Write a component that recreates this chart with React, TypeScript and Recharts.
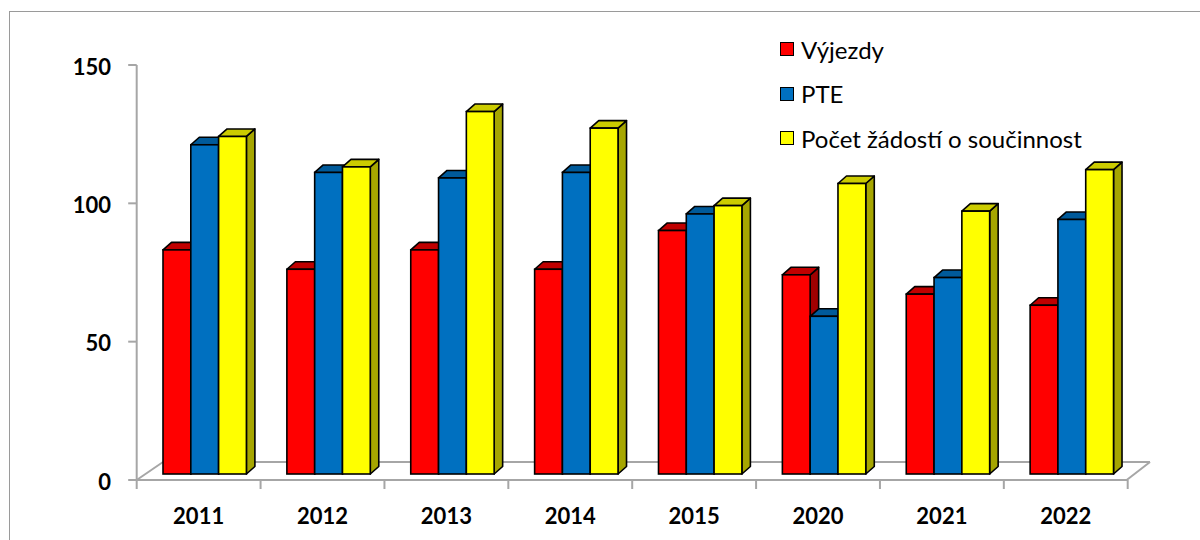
import React from 'react';
import { BarChart, Bar, XAxis, YAxis, CartesianGrid, Legend } from 'recharts';

const categories = ['2011', '2012', '2013', '2014', '2015', '2020', '2021', '2022'];
const vyjezdy = [81, 74, 81, 74, 88, 72, 65, 61];
const pte = [119, 109, 107, 109, 94, 57, 71, 92];
const zadosti = [122, 111, 131, 125, 97, 105, 95, 110];
const yTicks = [0, 50, 100, 150];

const seriesNames = ['Výjezdy', 'PTE', 'Počet žádostí o součinnost'];

const data = categories.map((c, i) => ({
  year: c,
  vyjezdy: vyjezdy[i],
  pte: pte[i],
  zadosti: zadosti[i],
}));

// layout constants
const W = 1200;
const H = 540;
const MARGIN = { top: 59, right: 66, bottom: 26, left: 83 };
const YAXIS_W = 60;
const XAXIS_H = 40;
const PLOT_LEFT = MARGIN.left + YAXIS_W;
const PLOT_RIGHT = W - MARGIN.right;
const BW = (PLOT_RIGHT - PLOT_LEFT) / categories.length;
// offset from bar plane to front plane of the floor
const FDX = -6.3;
const FDY = 6;
// offset of back floor edge relative to bar plane
const BDX = 18;
const BDY = -12;
// bar depth
const DX = 8.5;
const DY = 7.5;
const AXIS_GRAY = '#A6A6A6';
const FONT = 'Lato, "Open Sans", sans-serif';

const makeShape = (front: string, top: string, side: string) => (props: any) => {
  const { x, y, width, height } = props;
  if (width == null || height == null || isNaN(x) || isNaN(y)) return <g />;
  const sw = 1.6;
  const topPts = `${x},${y} ${x + DX},${y - DY} ${x + width + DX},${y - DY} ${x + width},${y}`;
  const sidePts = `${x + width},${y} ${x + width + DX},${y - DY} ${x + width + DX},${y + height - DY} ${x + width},${y + height}`;
  return (
    <g>
      <polygon points={sidePts} fill={side} stroke="#000" strokeWidth={sw} strokeLinejoin="round" />
      <polygon points={topPts} fill={top} stroke="#000" strokeWidth={sw} strokeLinejoin="round" />
      <rect x={x} y={y} width={width} height={height} fill={front} stroke="#000" strokeWidth={sw} />
    </g>
  );
};

const redShape = makeShape('#FF0000', '#C00000', '#A00000');
const blueShape = makeShape('#0070C0', '#005A9A', '#004F86');
const yellowShape = makeShape('#FFFF00', '#CCCC00', '#A6A600');

const YTick = (props: any) => {
  const { y, payload } = props;
  const fy = y + FDY;
  const ax = PLOT_LEFT + FDX;
  return (
    <g>
      <line x1={ax - 8.5} x2={ax} y1={fy} y2={fy} stroke={AXIS_GRAY} strokeWidth={2} />
      <text
        x={111}
        y={fy + 1}
        textAnchor="end"
        dominantBaseline="central"
        fontFamily={FONT}
        fontWeight="bold"
        fontSize={22}
        fill="#000"
      >
        {payload.value}
      </text>
    </g>
  );
};

const XTick = (props: any) => {
  const { x, payload, index } = props;
  const fx = x + FDX;
  const baseY = H - MARGIN.bottom - XAXIS_H + FDY;
  const left = fx - BW / 2;
  const right = fx + BW / 2;
  return (
    <g>
      <line x1={left} x2={left} y1={baseY} y2={baseY + 9} stroke={AXIS_GRAY} strokeWidth={2} />
      {index === categories.length - 1 && (
        <line x1={right} x2={right} y1={baseY} y2={baseY + 9} stroke={AXIS_GRAY} strokeWidth={2} />
      )}
      <text
        x={fx}
        y={515}
        textAnchor="middle"
        dominantBaseline="central"
        fontFamily={FONT}
        fontWeight="bold"
        fontSize={22}
        fill="#000"
      >
        {payload.value}
      </text>
    </g>
  );
};

const FloorLine = (props: any) => {
  const { x1, x2, y1 } = props;
  if (y1 == null || y1 < H - MARGIN.bottom - XAXIS_H - 1) return <g />;
  const fl = { x: x1 + FDX, y: y1 + FDY };
  const fr = { x: x2 + FDX - 1, y: y1 + FDY };
  const bl = { x: x1 + BDX + 2, y: y1 + BDY };
  const br = { x: x2 + BDX - 2, y: y1 + BDY };
  return (
    <g stroke={AXIS_GRAY} strokeWidth={2} fill="none">
      <line x1={fl.x} y1={fl.y} x2={bl.x} y2={bl.y} />
      <line x1={bl.x} y1={bl.y} x2={br.x} y2={br.y} />
      <line x1={fr.x} y1={fr.y} x2={br.x} y2={br.y} />
    </g>
  );
};

const LegendContent = (props: any) => {
  const items = [...(props.payload || [])].sort(
    (a: any, b: any) => seriesNames.indexOf(a.value) - seriesNames.indexOf(b.value)
  );
  return (
    <div style={{ fontFamily: FONT, fontSize: 24, color: '#000' }}>
      {items.map((p: any, i: number) => (
        <div key={i} style={{ display: 'flex', alignItems: 'center', height: 44.5, whiteSpace: 'nowrap' }}>
          <span
            style={{
              display: 'inline-block',
              width: 12,
              height: 12,
              background: p.color,
              border: '1.6px solid #000',
              marginRight: 7,
            }}
          />
          <span>{p.value}</span>
        </div>
      ))}
    </div>
  );
};

export default function App() {
  return (
    <div style={{ position: 'absolute', left: 0, top: 0, width: W, height: H, overflow: 'hidden', background: '#fff' }}>
      <div
        style={{
          position: 'absolute',
          left: 9,
          top: 11,
          width: 1300,
          height: 700,
          border: '1px solid #9A9A9A',
        }}
      />
      <div style={{ position: 'absolute', left: 0, top: 0 }}>
        <BarChart width={W} height={H} data={data} margin={MARGIN} barGap={0} barSize={27.8}>
          <CartesianGrid horizontal={FloorLine as any} vertical={false} />
          <XAxis
            dataKey="year"
            height={XAXIS_H}
            axisLine={{ stroke: AXIS_GRAY, strokeWidth: 2, transform: `translate(${FDX},${FDY})` } as any}
            tickLine={false}
            tick={<XTick />}
            interval={0}
          />
          <YAxis
            width={YAXIS_W}
            domain={[0, 150]}
            ticks={yTicks}
            axisLine={{ stroke: AXIS_GRAY, strokeWidth: 2, transform: `translate(${FDX},${FDY})` } as any}
            tickLine={false}
            tick={<YTick />}
            interval={0}
          />
          <Legend
            layout="vertical"
            align="center"
            verticalAlign="middle"
            content={<LegendContent />}
            wrapperStyle={{ left: 780, top: 27, width: 'auto' }}
          />
          <Bar dataKey="vyjezdy" name={seriesNames[0]} fill="#FF0000" shape={redShape} isAnimationActive={false} />
          <Bar dataKey="pte" name={seriesNames[1]} fill="#0070C0" shape={blueShape} isAnimationActive={false} />
          <Bar dataKey="zadosti" name={seriesNames[2]} fill="#FFFF00" shape={yellowShape} isAnimationActive={false} />
        </BarChart>
      </div>
    </div>
  );
}
